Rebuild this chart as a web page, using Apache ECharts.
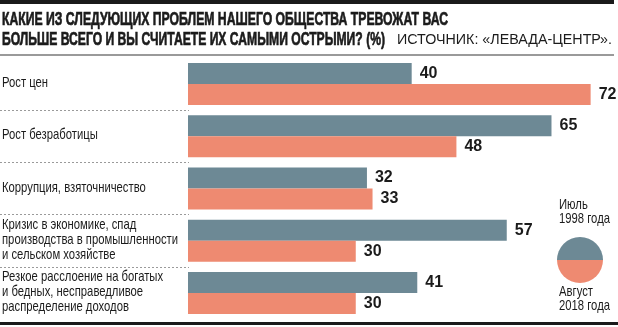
<!DOCTYPE html>
<html>
<head>
<meta charset="utf-8">
<script src="https://cdn.jsdelivr.net/npm/echarts@6/dist/echarts.min.js"></script>
<style>
  html, body { margin: 0; padding: 0; background: #fff; }
  #chart { width: 618px; height: 327px; }
</style>
</head>
<body>
<div id="chart"></div>
<script>
// Survey: which problems worry people most (%), 1998 vs 2018
const categories = [
  'Рост цен',
  'Рост безработицы',
  'Коррупция, взяточничество',
  'Кризис в экономике, спад\nпроизводства в промышленности\nи сельском хозяйстве',
  'Резкое расслоение на богатых\nи бедных, несправедливое\nраспределение доходов'
];
const seriesNames = ['Июль\n1998 года', 'Август\n2018 года'];
const values1998 = [40, 65, 32, 57, 41];
const values2018 = [72, 48, 33, 30, 30];
const titleLines = [
  'КАКИЕ ИЗ СЛЕДУЮЩИХ ПРОБЛЕМ НАШЕГО ОБЩЕСТВА ТРЕВОЖАТ ВАС',
  'БОЛЬШЕ ВСЕГО И ВЫ СЧИТАЕТЕ ИХ САМЫМИ ОСТРЫМИ? (%)'
];
const sourceText = 'ИСТОЧНИК: «ЛЕВАДА-ЦЕНТР».';

const COLOR_OLD = '#6d8995';
const COLOR_NEW = '#ee8a71';
const INK = '#1b1b1b';
const SANS = '"Liberation Sans", Arial, sans-serif';

// text is set in a regular sans and squeezed horizontally to a condensed width
const measureCtx = document.createElement('canvas').getContext('2d');
function textWidth(text, font) {
  measureCtx.font = font;
  return Math.max.apply(null, text.split('\n').map(function (t) { return measureCtx.measureText(t).width; }));
}
function fittedText(text, x, y, font, width, color, heavy) {
  const style = { text: text, font: font, fill: color, textAlign: 'left', textVerticalAlign: 'middle' };
  if (heavy) { style.stroke = color; style.lineWidth = heavy; }
  return { type: 'text', x: x, y: y, scaleX: width / textWidth(text, font), scaleY: 1, style: style };
}

const titleFont = 'bold 19px ' + SANS;
const sourceFont = '14px ' + SANS;
const labelFont = '15px ' + SANS;
const labelScale = 176 / textWidth('производства в промышленности', labelFont);
const legendFont = '15px ' + SANS;
const legendScale = 51 / textWidth('1998 года', legendFont);

const chart = echarts.init(document.getElementById('chart'), null, { renderer: 'canvas' });
chart.setOption({
  backgroundColor: '#ffffff',
  animation: false,
  grid: [
    { left: 188, right: 5, top: 58, bottom: 8 },
    { left: 0, width: 189, top: 58, bottom: 8 }
  ],
  xAxis: [
    { gridIndex: 0, type: 'value', min: 0, max: 76, show: false },
    { gridIndex: 1, type: 'value', min: 0, max: 1, show: false }
  ],
  yAxis: [
    {
      gridIndex: 0, type: 'category', data: categories, inverse: true,
      axisLine: { show: false }, axisTick: { show: false }, splitLine: { show: false },
      axisLabel: { show: false }
    },
    {
      gridIndex: 1, type: 'category', data: categories, inverse: true,
      axisLine: { show: false }, axisTick: { show: false }, axisLabel: { show: false },
      splitLine: {
        show: true, showMinLine: false, showMaxLine: false,
        lineStyle: { color: '#9a9a9a', type: [2, 2], width: 1 }
      }
    }
  ],
  series: [
    {
      name: seriesNames[0], type: 'bar', xAxisIndex: 0, yAxisIndex: 0,
      data: values1998, barWidth: 21, barGap: '0%',
      itemStyle: { color: COLOR_OLD },
      label: { show: true, position: 'right', distance: 8, color: INK,
               fontFamily: SANS, fontWeight: 'bold', fontSize: 16 }
    },
    {
      name: seriesNames[1], type: 'bar', xAxisIndex: 0, yAxisIndex: 0,
      data: values2018, barWidth: 21, barGap: '0%',
      itemStyle: { color: COLOR_NEW },
      label: { show: true, position: 'right', distance: 8, color: INK,
               fontFamily: SANS, fontWeight: 'bold', fontSize: 16 }
    },
    {
      // category names in the left column, placed on the category axis
      type: 'custom', xAxisIndex: 1, yAxisIndex: 1,
      data: categories.map(function (c, i) { return [0, i]; }),
      renderItem: function (params, api) {
        const pt = api.coord([0, api.value(1)]);
        return {
          type: 'text', x: 2, y: pt[1] - 1, scaleX: labelScale, scaleY: 1,
          style: { text: categories[params.dataIndex], font: labelFont, fill: INK,
                   lineHeight: 15, textAlign: 'left', textVerticalAlign: 'middle' }
        };
      }
    }
  ],
  graphic: [
    // header and footer rules
    { type: 'rect', shape: { x: 0, y: 0, width: 614, height: 4 }, style: { fill: '#1a1a1a' } },
    { type: 'rect', shape: { x: 0, y: 54, width: 614, height: 2 }, style: { fill: '#9a9a9a' } },
    { type: 'rect', shape: { x: 0, y: 322, width: 618, height: 3 }, style: { fill: '#1a1a1a' } },
    // headline
    fittedText(titleLines[0], 2, 20, titleFont, 446, INK, 0.7),
    fittedText(titleLines[1], 2, 39.5, titleFont, 383, INK, 0.7),
    fittedText(sourceText, 397, 40.5, sourceFont, 215, INK),
    // legend disc: top half 1998, bottom half 2018
    { type: 'sector', shape: { cx: 580, cy: 260, r: 23, startAngle: Math.PI, endAngle: 2 * Math.PI },
      style: { fill: COLOR_OLD } },
    { type: 'sector', shape: { cx: 580, cy: 260, r: 23, startAngle: 0, endAngle: Math.PI },
      style: { fill: COLOR_NEW } },
    { type: 'text', x: 559, y: 212, scaleX: legendScale, scaleY: 1,
      style: { text: seriesNames[0], font: legendFont, fill: INK, lineHeight: 14.5,
               textAlign: 'left', textVerticalAlign: 'middle' } },
    { type: 'text', x: 559, y: 299, scaleX: legendScale, scaleY: 1,
      style: { text: seriesNames[1], font: legendFont, fill: INK, lineHeight: 14.5,
               textAlign: 'left', textVerticalAlign: 'middle' } }
  ]
});
</script>
</body>
</html>
